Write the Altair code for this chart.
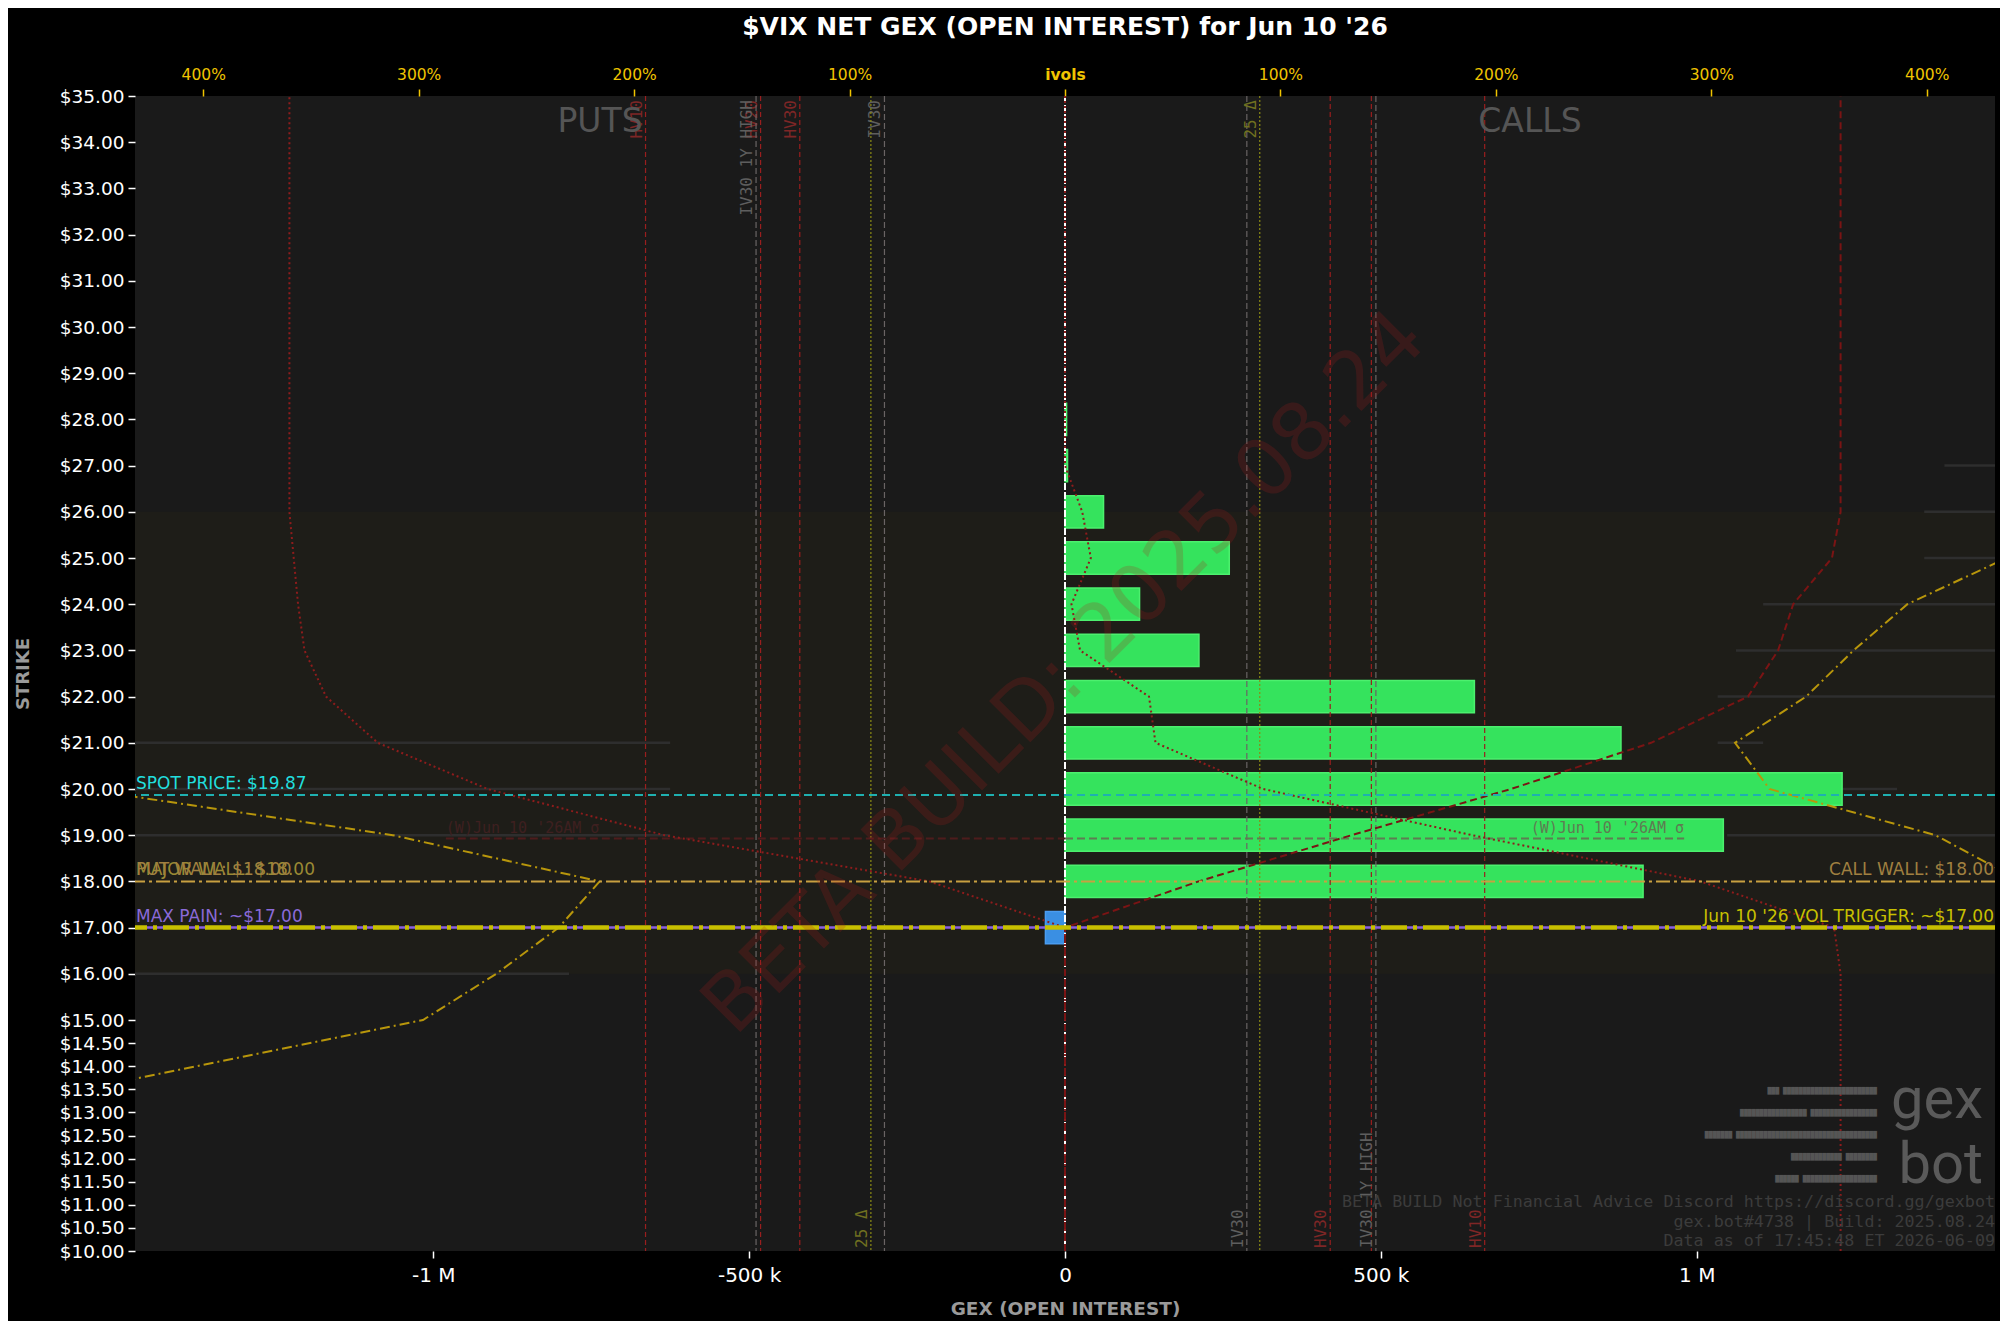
import altair as alt
import pandas as pd

# ---------------- data ----------------
bar_strikes = [17, 18, 19, 20, 21, 22, 23, 24, 25, 26, 27, 28]
bar_gex = [-31000, 915000, 1042000, 1230000, 880000, 648000, 212000, 118000, 260000, 61000, 4000, 2500]

put_iv_strikes = [13, 14, 15, 16, 17, 18, 19, 20]
put_iv_pct = [509, 403, 298, 264, 235, 216, 312, 456]
call_iv_strikes = [17, 18, 19, 20, 21, 22, 23, 24, 25, 26]
call_iv_pct = [485, 444, 404, 327, 311, 344, 366, 391, 437, 480]

curve_strikes = [10, 11, 12, 13, 14, 15, 16, 17, 18, 19, 20, 21, 22,
                 23, 24, 25, 26, 27, 28, 29, 30, 31, 32, 33, 34, 35]
put_curve_pct = [0, 0, 0, 0, 0, 0, 0, 0, 63, 186, 268, 319, 343,
                 353, 356, 358, 360, 360, 360, 360, 360, 360, 360, 360, 360, 360]
call_curve_a_pct = [0, 0, 0, 0, 0, 0, 0, 0, 62, 133, 207, 272, 317,
                    331, 338, 356, 360, 360, 360, 360, 360, 360, 360, 360, 360, 360]
call_curve_b_pct = [360, 360, 360, 360, 360, 360, 360, 357, 295, 189, 92, 42, 39,
                    7, 3, 12, 8, 0, 0, 0, 0, 0, 0, 0, 0, 0]

ref_labels = ["HV10", "IV30 1Y HIGH", "HV20", "HV30", "25 Δ", "IV30",
              "IV30", "25 Δ", "HV30", "HV20", "IV30 1Y HIGH", "HV10"]
ref_pct = [-194.7, -143.4, -141.3, -123.1, -90.1, -83.8,
           84.4, 90.4, 123.1, 142.2, 144.3, 194.8]
ref_kind = ["hv", "iv", "hv", "hv", "delta", "iv",
            "iv", "delta", "hv", "hv", "iv", "hv"]
ref_label_pos = ["top", "top", "top", "top", "bottom", "top",
                 "bottom", "top", "bottom", "none", "bottom", "bottom"]

ov_strikes = [21, 20, 19, 16, 27, 26, 25, 24, 23, 22, 21, 20, 19]
ov_start = [-1472000, -1472000, -1472000, -1472000, 1392000, 1360000, 1360000,
            1105000, 1062000, 1033000, 1033000, 1033000, 1048000]
ov_end = [-625000, -625000, -625000, -785000, 1472000, 1472000, 1472000,
          1472000, 1472000, 1472000, 1105000, 1317000, 1472000]

band_low, band_high = 16, 26
spot_price = 19.87
call_wall = 18.0
put_wall = 18.0
major_wall = 18.0
max_pain = 17.0
vol_trigger = 17.0
sigma_strike = 18.93
sigma_gex = 980000
expiry = "Jun 10 '26"

ytick_vals = [35, 34, 33, 32, 31, 30, 29, 28, 27, 26, 25, 24, 23, 22, 21, 20, 19, 18, 17, 16,
              15, 14.5, 14, 13.5, 13, 12.5, 12, 11.5, 11, 10.5, 10]
xtick_vals = [-1000000, -500000, 0, 500000, 1000000]
pct_tick_vals = [-400, -300, -200, -100, 0, 100, 200, 300, 400]

footer_lines = ["BETA BUILD Not Financial Advice Discord https://discord.gg/gexbot",
                "gex.bot#4738 | Build: 2025.08.24",
                "Data as of 17:45:48 ET 2026-06-09"]
logo_rows = ["███    ████████████████████████",
             "█████████████████   █████████████████",
             "███████   ████████████████████████████████████",
             "█████████████   ████████",
             "██████   ███████████████████"]

# ---------------- scales / axes ----------------
X_MAX = 1472000
GEX_PER_PCT = 3410
PCT_MAX = X_MAX / GEX_PER_PCT

FONT = "DejaVu Sans"
MONO = "DejaVu Sans Mono"

xg = alt.Scale(domain=[-X_MAX, X_MAX], nice=False, zero=False)
xp = alt.Scale(domain=[-PCT_MAX, PCT_MAX], nice=False, zero=False)
ys = alt.Scale(domain=[10, 35], nice=False, zero=False)

yax = alt.Axis(title="STRIKE", values=ytick_vals, labelExpr="'$' + format(datum.value, '.2f')",
               labelColor="white", labelFontSize=18.5, labelFont=FONT, labelOverlap=False,
               tickColor="white", tickSize=7, tickWidth=1.5, labelPadding=4,
               titleColor="#9a9a9a", titleFontSize=18, titleFontWeight="bold", titleFont=FONT,
               titlePadding=27, domain=False, grid=False)

xax_bottom = alt.Axis(orient="bottom", values=xtick_vals,
                      labelExpr="datum.value == 0 ? '0' : (abs(datum.value) >= 1000000 ? (datum.value / 1000000) + ' M' : (datum.value / 1000) + ' k')",
                      labelColor="white", labelFontSize=20, labelFont=FONT,
                      tickColor="white", tickSize=7, tickWidth=1.5, labelPadding=7,
                      title="GEX (OPEN INTEREST)", titleColor="#9a9a9a", titleFontSize=18.5,
                      titleFontWeight="bold", titleFont=FONT, titlePadding=14,
                      domain=False, grid=False)

xax_top = alt.Axis(orient="top", values=pct_tick_vals,
                   labelExpr="datum.value == 0 ? 'ivols' : abs(datum.value) + '%'",
                   labelColor="#f0c400", labelFontSize=15.5, labelFont=FONT,
                   labelFontWeight={"condition": {"test": "datum.value == 0", "value": "bold"}, "value": "normal"},
                   tickColor="#f0c400", tickSize=7, tickWidth=1.5, labelPadding=7,
                   title=None, domain=False, grid=False)


def y_field(f):
    return alt.Y(f, type="quantitative", scale=ys, axis=yax)


def y_dat(v):
    return alt.YDatum(v, type="quantitative", scale=ys, axis=yax)


def xg_dat(v):
    return alt.XDatum(v, type="quantitative", scale=xg, axis=None)


# ---------------- tables ----------------
bars_df = pd.DataFrame({"strike": bar_strikes, "gex": bar_gex})
bars_df["lo"] = bars_df["strike"] - 0.35
bars_df["hi"] = bars_df["strike"] + 0.35
pos_df = bars_df[bars_df["gex"] >= 0]
neg_df = bars_df[bars_df["gex"] < 0]

iv_df = pd.concat([
    pd.DataFrame({"strike": put_iv_strikes, "pct": [-v for v in put_iv_pct], "side": "put"}),
    pd.DataFrame({"strike": call_iv_strikes, "pct": call_iv_pct, "side": "call"}),
])
put_curve_df = pd.DataFrame({"strike": curve_strikes, "pct": [-v for v in put_curve_pct]})
call_a_df = pd.DataFrame({"strike": curve_strikes, "pct": call_curve_a_pct})
call_b_df = pd.DataFrame({"strike": curve_strikes, "pct": call_curve_b_pct})

ref_df = pd.DataFrame({"label": ref_labels, "pct": ref_pct, "kind": ref_kind, "pos": ref_label_pos})
ov_df = pd.DataFrame({"strike": ov_strikes, "x1": ov_start, "x2": ov_end})
band_df = pd.DataFrame({"lo": [band_low], "hi": [band_high]})

kind_style = {
    "hv": {"line": "#9a1e1e", "label": "#7e2626", "dash": [5, 3]},
    "iv": {"line": "#6a6464", "label": "#5e5e5e", "dash": [6, 3]},
    "delta": {"line": "#8c8c14", "label": "#707020", "dash": [2, 2]},
}

layers = []

# background band
layers.append(alt.Chart(band_df).mark_rect(fill="#5a4a10", opacity=0.08).encode(
    x=xg_dat(-X_MAX), x2=alt.X2Datum(X_MAX), y=y_field("lo"), y2="hi"))

# faint grey overlay segments
layers.append(alt.Chart(ov_df).mark_rule(color="#2e2e2e", strokeWidth=2.5).encode(
    x=alt.X("x1:Q", scale=xg, axis=None), x2="x2:Q", y=y_field("strike")))

# GEX bars
layers.append(alt.Chart(pos_df).mark_rect(fill="#35e35d", stroke="#4cf06e", strokeWidth=1.5).encode(
    x=alt.X("gex:Q", scale=xg, axis=xax_bottom), x2=alt.X2Datum(0),
    y=y_field("lo"), y2="hi"))
layers.append(alt.Chart(neg_df).mark_rect(fill="#3a8fe3", stroke="#4a9cf0", strokeWidth=1.5).encode(
    x=alt.X("gex:Q", scale=xg, axis=None), x2=alt.X2Datum(0),
    y=y_field("lo"), y2="hi"))

# zero line
layers.append(alt.Chart(band_df).mark_rule(color="white", strokeWidth=2, strokeDash=[7, 2]).encode(x=xg_dat(0)))

# vertical reference lines (percent scale; first one carries the top axis)
first = True
for kind, st in kind_style.items():
    sub = ref_df[ref_df["kind"] == kind]
    layers.append(alt.Chart(sub).mark_rule(strokeWidth=1.2, color=st["line"], strokeDash=st["dash"]).encode(
        x=alt.X("pct:Q", scale=xp, axis=xax_top if first else None)))
    first = False
    top = sub[sub["pos"] == "top"]
    bot = sub[sub["pos"] == "bottom"]
    if len(top):
        layers.append(alt.Chart(top).mark_text(
            angle=270, align="right", baseline="bottom", font=MONO, fontSize=16, dx=-4, dy=-1,
            color=st["label"]).encode(
            x=alt.X("pct:Q", scale=xp, axis=None), y=y_dat(35), text="label:N"))
    if len(bot):
        layers.append(alt.Chart(bot).mark_text(
            angle=270, align="left", baseline="bottom", font=MONO, fontSize=16, dx=3, dy=-1,
            color=st["label"]).encode(
            x=alt.X("pct:Q", scale=xp, axis=None), y=y_dat(10), text="label:N"))

# sigma lines
sig_df = pd.DataFrame({"y": [sigma_strike]})
sig_text = f"(W){expiry}AM σ"
layers.append(alt.Chart(sig_df).mark_rule(color="#5e7c52", strokeWidth=2, strokeDash=[8, 4]).encode(
    x=xg_dat(0), x2=alt.X2Datum(sigma_gex), y=y_field("y")))
layers.append(alt.Chart(sig_df).mark_rule(color="#4e1c1c", strokeWidth=2, strokeDash=[8, 4]).encode(
    x=xg_dat(-sigma_gex), x2=alt.X2Datum(0), y=y_field("y")))
layers.append(alt.Chart(sig_df).mark_text(align="right", baseline="bottom", font=MONO, fontSize=15,
                                          color="#5e7c52", dy=-2).encode(
    x=xg_dat(sigma_gex), y=y_field("y"), text=alt.value(sig_text)))
layers.append(alt.Chart(sig_df).mark_text(align="left", baseline="bottom", font=MONO, fontSize=15,
                                          color="#3e2020", dy=-2).encode(
    x=xg_dat(-sigma_gex), y=y_field("y"), text=alt.value(sig_text)))

# curves
layers.append(alt.Chart(put_curve_df).mark_line(color="#8e1c1c", strokeWidth=2, strokeDash=[2, 3], clip=True).encode(
    x=alt.X("pct:Q", scale=xp, axis=None), y=y_field("strike"), order="strike:Q"))
layers.append(alt.Chart(call_a_df).mark_line(color="#7a1414", strokeWidth=2, strokeDash=[7, 4], clip=True).encode(
    x=alt.X("pct:Q", scale=xp, axis=None), y=y_field("strike"), order="strike:Q"))
layers.append(alt.Chart(call_b_df).mark_line(color="#8e1c1c", strokeWidth=2, strokeDash=[2, 3], clip=True).encode(
    x=alt.X("pct:Q", scale=xp, axis=None), y=y_field("strike"), order="strike:Q"))
layers.append(alt.Chart(iv_df).mark_line(color="#b8960b", strokeWidth=2, strokeDash=[10, 4, 2, 4], clip=True).encode(
    x=alt.X("pct:Q", scale=xp, axis=None), y=y_field("strike"), detail="side:N", order="strike:Q"))

# horizontal level lines
lv = pd.DataFrame({"y": [0]})
layers.append(alt.Chart(lv).mark_rule(color="#1fb0b0", strokeWidth=2, strokeDash=[8, 5]).encode(y=y_dat(spot_price)))
layers.append(alt.Chart(lv).mark_rule(color="#c8a040", strokeWidth=2, strokeDash=[14, 4, 3, 4]).encode(y=y_dat(call_wall)))
layers.append(alt.Chart(lv).mark_rule(color="#8a60e0", strokeWidth=2.5).encode(y=y_dat(max_pain)))
layers.append(alt.Chart(lv).mark_rule(color="#c8c000", strokeWidth=4.5, strokeDash=[26, 6, 4, 6]).encode(y=y_dat(vol_trigger)))


def edge_label(txt, yv, color, side):
    if side == "left":
        return alt.Chart(lv).mark_text(align="left", baseline="bottom", font=FONT, fontSize=17,
                                       color=color, dx=1, dy=-2).encode(
            x=xg_dat(-X_MAX), y=y_dat(yv), text=alt.value(txt))
    return alt.Chart(lv).mark_text(align="right", baseline="bottom", font=FONT, fontSize=17,
                                   color=color, dx=-1, dy=-2).encode(
        x=xg_dat(X_MAX), y=y_dat(yv), text=alt.value(txt))


layers.append(edge_label(f"SPOT PRICE: ${spot_price:.2f}", spot_price, "#22dede", "left"))
layers.append(edge_label(f"MAJOR WALL: ${major_wall:.2f}", major_wall, "#9a8a34", "left"))
layers.append(edge_label(f"PUT WALL: ${put_wall:.2f}", put_wall, "#a08040", "left"))
layers.append(edge_label(f"CALL WALL: ${call_wall:.2f}", call_wall, "#a08040", "right"))
layers.append(edge_label(f"MAX PAIN: ~${max_pain:.2f}", max_pain, "#8a6ad8", "left"))
layers.append(edge_label(f"{expiry} VOL TRIGGER: ~${vol_trigger:.2f}", vol_trigger, "#c8c000", "right"))

# PUTS / CALLS
layers.append(alt.Chart(lv).mark_text(font=FONT, fontSize=33, color="#555555", baseline="top", dy=10).encode(
    x=xg_dat(-X_MAX / 2), y=y_dat(35), text=alt.value("PUTS")))
layers.append(alt.Chart(lv).mark_text(font=FONT, fontSize=33, color="#555555", baseline="top", dy=10).encode(
    x=xg_dat(X_MAX / 2), y=y_dat(35), text=alt.value("CALLS")))

# watermark
layers.append(alt.Chart(lv).mark_text(font=FONT, fontSize=80, color="#b01c1c", opacity=0.2, angle=315,
                                      align="center", baseline="middle").encode(
    x=xg_dat(0), y=y_dat(22.5), text=alt.value("BETA BUILD: 2025.08.24")))

# logo
logo_dy = [-160, -138, -116, -94, -72]
for row, dyv in zip(logo_rows, logo_dy):
    layers.append(alt.Chart(lv).mark_text(font=MONO, fontSize=6.5, color="#555555", align="right",
                                          baseline="middle", dx=-118, dy=dyv).encode(
        x=xg_dat(X_MAX), y=y_dat(10), text=alt.value(row)))
layers.append(alt.Chart(lv).mark_text(font="Roboto", fontSize=58, color="#5a5a5a", align="right",
                                      baseline="alphabetic", dx=-12, dy=-133).encode(
    x=xg_dat(X_MAX), y=y_dat(10), text=alt.value("gex")))
layers.append(alt.Chart(lv).mark_text(font="Roboto", fontSize=58, color="#5a5a5a", align="right",
                                      baseline="alphabetic", dx=-12, dy=-68).encode(
    x=xg_dat(X_MAX), y=y_dat(10), text=alt.value("bot")))

# footer
for line, dyv in zip(footer_lines, [-44, -24.5, -5]):
    layers.append(alt.Chart(lv).mark_text(font=MONO, fontSize=16.7, color="#3c3c3c", align="right",
                                          baseline="alphabetic", dx=0, dy=dyv).encode(
        x=xg_dat(X_MAX), y=y_dat(10), text=alt.value(line)))

chart = alt.layer(*layers).resolve_scale(x="independent").properties(
    width=1860, height=1155,
    autosize=alt.AutoSizeParams(type="none"),
    padding={"left": 127, "top": 88, "right": 5, "bottom": 70},
    background="#000000",
    title=alt.TitleParams(f"$VIX NET GEX (OPEN INTEREST) for {expiry}", color="white", fontSize=25,
                          fontWeight="bold", font=FONT, anchor="middle", offset=27),
).configure_view(fill="#1a1a1a", stroke=None).configure_axis(grid=False, domain=False)

chart.save("out.html", embed_options={"renderer": "svg", "actions": False})
